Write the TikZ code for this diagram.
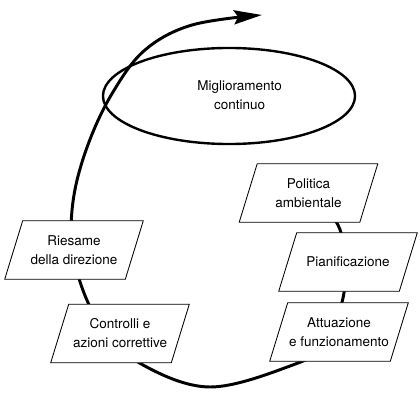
\documentclass[tikz,border=0pt]{standalone}
\usepackage{fontspec}
\setmainfont{TeX Gyre Heros}
\usetikzlibrary{shapes.geometric,arrows.meta,calc}
\pgfdeclarelayer{bg}
\pgfdeclarelayer{mid}
\pgfsetlayers{bg,mid,main}
\newcommand\pgmbox[1]{\draw[pgram] ($(#1.south west)+(-9,0)$) -- ($(#1.north west)+(9,0)$) -- ($(#1.north east)+(9,0)$) -- ($(#1.south east)+(-9,0)$) -- cycle;}
\begin{document}
\begin{tikzpicture}[x=0.025cm,y=-0.025cm,
  txt/.style={font=\fontsize{9.6}{13.5}\selectfont},
  stepbox/.style={rectangle, inner sep=0pt, minimum width=3cm, minimum height=1.45cm, align=center, txt},
  pgram/.style={draw=black, line width=0.6pt, fill=white, line join=miter},
  spiral/.style={line width=2.1pt, line cap=round},
  loopnode/.style={ellipse, draw, line width=1.7pt, minimum width=6.3cm, minimum height=2.4cm, inner sep=0pt, txt}
]
\useasboundingbox (0,0) rectangle (420,400);

\node[loopnode] (mig) at (229,96) {\kern15pt\begin{tabular}{@{}c@{}}Miglioramento\\continuo\end{tabular}};

\node[stepbox] (pol) at (308.5,193) {Politica\\ambientale};
\node[stepbox] (pia) at (348,262) {Pianificazione};
\node[stepbox] (att) at (339,332) {Attuazione\\e funzionamento};
\node[stepbox] (con) at (120,333.5) {Controlli e\\azioni correttive};
\node[stepbox] (rie) at (74,250) {Riesame\\della direzione};
\coordinate (tip) at (262,15);

\begin{pgfonlayer}{mid}
\pgmbox{pol}
\pgmbox{pia}
\pgmbox{att}
\pgmbox{con}
\pgmbox{rie}
\end{pgfonlayer}

\begin{pgfonlayer}{bg}
\draw[spiral, -{Stealth[length=20pt,width=10pt,inset=3pt]}] plot[smooth, tension=0.6] coordinates {(pol) (338,225) (344,262) (343,298) (325,345) (290,366) (210,387) (143,365) (105,330) (84,293) (72,245) (74,195) (89,142) (113,92) (145,50) (192,25) (tip)};
\end{pgfonlayer}
\end{tikzpicture}
\end{document}
